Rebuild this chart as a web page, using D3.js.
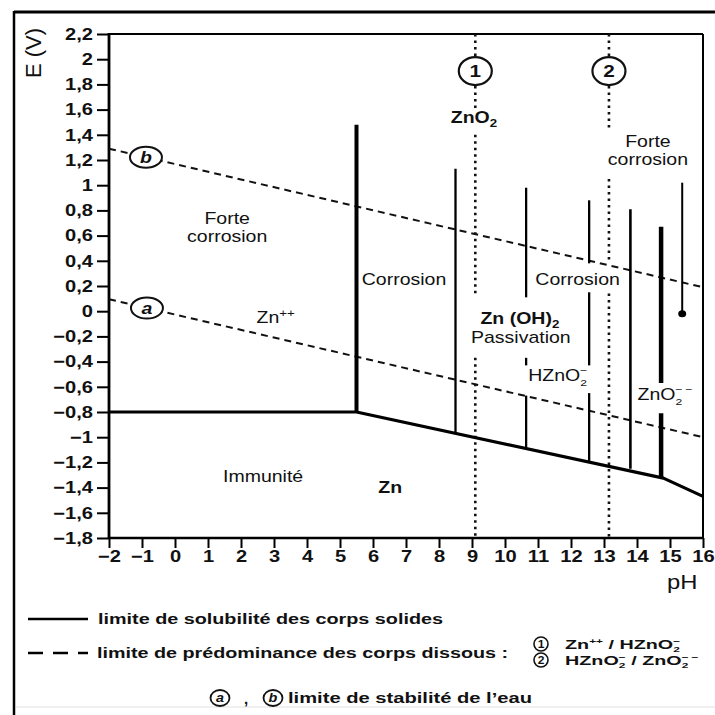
<!DOCTYPE html>
<html><head><meta charset="utf-8">
<script src="https://cdn.jsdelivr.net/npm/d3@7"></script>
<style>
body{margin:0;background:#fff}
svg{display:block}
text{font-family:"Liberation Sans",Arial,Helvetica,sans-serif;fill:#111}
</style>
</head><body>
<svg id="chart" width="715" height="715"></svg>
<script>
// ---------------- data ----------------
const phTicks = [-2,-1,0,1,2,3,4,5,6,7,8,9,10,11,12,13,14,15,16];
const eTicks = [-1.8,-1.6,-1.4,-1.2,-1,-0.8,-0.6,-0.4,-0.2,0,0.2,0.4,0.6,0.8,1,1.2,1.4,1.6,1.8,2,2.2];

// solubility limit of solids (pH, E)
const solubilityLine = [[-2,-0.8],[5.5,-0.8],[14.8,-1.325],[16,-1.47]];
// water stability limits a and b
const waterLineA = [[-2,0.095],[16,-1.0]];
const waterLineB = [[-2,1.29],[16,0.19]];

// vertical solubility boundaries: pH and E segments [top, bottom]
const boundaryPH = [5.5, 8.5, 10.64, 12.55, 13.8, 14.73, 15.37];
const boundarySegments = [
  [[1.48,-0.8]],
  [[1.13,-0.96]],
  [[0.98,0.11],[-0.37,-0.43],[-0.67,-1.08]],
  [[0.88,0.38],[0.15,-0.43],[-0.65,-1.2]],
  [[0.81,-1.25]],
  [[0.67,-0.57],[-0.81,-1.32]],
  [[1.02,-0.02]]
];
const boundaryEndDot = [15.37, -0.02];

// predominance limits of dissolved species (dotted)
const predominancePH = [9.1, 13.15];
const predominanceNames = ["1","2"];
const predominanceSegments = [
  [[2.2,1.61],[1.40,0.11],[-0.37,-1.8]],
  [[2.2,1.45],[1.05,0.38],[0.14,-1.8]]
];
const predominanceMarkE = 1.906;

// water line markers
const waterNames = ["a","b"];
const waterMarkPH = [-0.85, -0.88];

// region labels: text parts, anchor (pH, E baseline)
const regionLabels = [
  {parts:[["Forte","n"]], ph:1.58, e:0.69},
  {parts:[["corrosion","n"]], ph:1.58, e:0.552},
  {parts:[["Zn","n"],["++","sup"]], ph:3.05, e:-0.094},
  {parts:[["Corrosion","n"]], ph:6.94, e:0.208},
  {parts:[["ZnO","n"],["2","sub"]], ph:9.06, e:1.494, bold:true},
  {parts:[["Forte","n"]], ph:14.33, e:1.30},
  {parts:[["corrosion","n"]], ph:14.33, e:1.162},
  {parts:[["Corrosion","n"]], ph:12.2, e:0.208},
  {parts:[["Zn (OH)","n"],["2","sub"]], ph:10.45, e:-0.100, bold:true},
  {parts:[["Passivation","n"]], ph:10.48, e:-0.255},
  {parts:[["HZnO","n"],["2","sub"],["\u2212","supback"]], ph:11.6, e:-0.554},
  {parts:[["ZnO","n"],["2","sub"],["\u2212","supback"],["\u2212","supgap"]], ph:14.85, e:-0.705},
  {parts:[["Immunit\u00e9","n"]], ph:2.67, e:-1.356},
  {parts:[["Zn","n"]], ph:6.52, e:-1.443, bold:true}
];

// legend texts
const legendSolid = "limite de solubilit\u00e9 des corps solides";
const legendDashed = "limite de pr\u00e9dominance des corps dissous :";
const legendPairs = [
  [["Zn","n"],["++","sup"],[" / HZnO","n"],["2","sub"],["\u2212","supback"]],
  [["HZnO","n"],["2","sub"],["\u2212","supback"],[" / ZnO","n"],["2","sub"],["\u2212","supback"],["\u2212","supgap"]]
];
const legendWater = "limite de stabilit\u00e9 de l\u2019eau";
const axisTitleY = "E (V)";
const axisTitleX = "pH";

// ---------------- drawing ----------------
const svg = d3.select("#chart");
const x = d3.scaleLinear().domain([-2,16]).range([109,703]);
const y = d3.scaleLinear().domain([-1.8,2.2]).range([538,34]);
const SX = 1.22;

// outer frame
svg.append("line").attr("x1",14).attr("x2",715).attr("y1",12).attr("y2",12).attr("stroke","#000").attr("stroke-width",3);
svg.append("line").attr("x1",14).attr("x2",14).attr("y1",11).attr("y2",715).attr("stroke","#000").attr("stroke-width",2.5);
svg.append("line").attr("x1",16).attr("x2",715).attr("y1",707).attr("y2",707).attr("stroke","#e2e2e2").attr("stroke-width",1.2);

function fmt(d){ return d===0 ? "0" : String(d).replace(".",",").replace("-","\u2212"); }

// axes
const gy = svg.append("g").attr("transform",`translate(${x(-2)},0)`)
  .call(d3.axisLeft(y).tickValues(eTicks).tickSize(12).tickPadding(4).tickFormat(fmt));
gy.select(".domain").remove();
gy.selectAll(".tick line").attr("stroke","#000").attr("stroke-width",2);
gy.selectAll(".tick text").attr("font-family",null).attr("font-size",16.5).attr("font-weight","bold")
  .attr("x",-16/SX).attr("transform",`scale(${SX},1)`).attr("fill","#111");

const gx = svg.append("g").attr("transform",`translate(0,${y(-1.8)})`)
  .call(d3.axisBottom(x).tickValues(phTicks).tickSize(10).tickPadding(2).tickFormat(fmt));
gx.select(".domain").remove();
gx.selectAll(".tick line").attr("stroke","#000").attr("stroke-width",2);
gx.selectAll(".tick text").attr("font-family",null).attr("font-size",16.5).attr("font-weight","bold")
  .attr("transform",`scale(${SX},1)`).attr("fill","#111");

// plot frame
svg.append("line").attr("x1",x(-2)).attr("x2",x(-2)).attr("y1",y(2.2)-1).attr("y2",y(-1.8)+1).attr("stroke","#000").attr("stroke-width",2.8);
svg.append("line").attr("x1",x(-2)).attr("x2",x(16)).attr("y1",y(-1.8)).attr("y2",y(-1.8)).attr("stroke","#000").attr("stroke-width",2.5);
svg.append("line").attr("x1",x(-2)).attr("x2",x(16)).attr("y1",y(2.2)).attr("y2",y(2.2)).attr("stroke","#000").attr("stroke-width",2);
svg.append("line").attr("x1",x(16)).attr("x2",x(16)).attr("y1",y(2.2)).attr("y2",y(-1.8)).attr("stroke","#000").attr("stroke-width",2);

const line = d3.line().x(d=>x(d[0])).y(d=>y(d[1]));

// water dashed lines
[waterLineA, waterLineB].forEach(l=>{
  svg.append("path").attr("d",line(l)).attr("fill","none").attr("stroke","#111")
    .attr("stroke-width",2).attr("stroke-dasharray","7,5");
});

// dotted predominance lines
predominancePH.forEach((ph,i)=>{
  predominanceSegments[i].forEach(s=>{
    svg.append("line").attr("x1",x(ph)).attr("x2",x(ph)).attr("y1",y(s[0])).attr("y2",y(s[1]))
      .attr("stroke","#111").attr("stroke-width",2.6).attr("stroke-dasharray","2.5,4");
  });
});

// solubility polyline
svg.append("path").attr("d",line(solubilityLine)).attr("fill","none").attr("stroke","#000")
  .attr("stroke-width",3.2).attr("stroke-linejoin","round");

// vertical boundaries
const boundaryWidth = [4,2.3,2.3,2.3,2.6,4.5,2];
boundaryPH.forEach((ph,i)=>{
  boundarySegments[i].forEach(s=>{
    svg.append("line").attr("x1",x(ph)).attr("x2",x(ph)).attr("y1",y(s[0])).attr("y2",y(s[1]))
      .attr("stroke","#000").attr("stroke-width",boundaryWidth[i]);
  });
});
svg.append("ellipse").attr("cx",x(boundaryEndDot[0])).attr("cy",y(boundaryEndDot[1])).attr("rx",4).attr("ry",3.5).attr("fill","#000");

// circle markers on water lines
waterNames.forEach((n,i)=>{
  const L = i===0 ? waterLineA : waterLineB;
  const ph = waterMarkPH[i];
  const e = L[0][1] + (L[1][1]-L[0][1])*(ph-L[0][0])/(L[1][0]-L[0][0]);
  const g = svg.append("g").attr("transform",`translate(${x(ph)},${y(e)})`);
  g.append("ellipse").attr("rx",16).attr("ry",10.5).attr("fill","#fff").attr("stroke","#111").attr("stroke-width",2);
  g.append("text").attr("text-anchor","middle").attr("y",5.5).attr("font-size",16).attr("font-style","italic").attr("font-weight","bold")
    .attr("transform",`scale(${SX},1)`).text(n);
});
predominancePH.forEach((ph,i)=>{
  const g = svg.append("g").attr("transform",`translate(${x(ph)},${y(predominanceMarkE)})`);
  g.append("ellipse").attr("rx",16.5).attr("ry",14).attr("fill","#fff").attr("stroke","#111").attr("stroke-width",2.2);
  g.append("text").attr("text-anchor","middle").attr("y",6).attr("font-size",17).attr("font-weight","bold")
    .attr("transform",`scale(${SX},1)`).text(predominanceNames[i]);
});

// rich text helper
function rich(g, parts, size, subK, supK, smallK){
  subK = subK || 0.3; supK = supK || 0.38; smallK = smallK || 0.68;
  const t = g.append("text").attr("font-size",size);
  let shift = 0;
  parts.forEach(([s,k])=>{
    const small = size*smallK;
    let target = 0;
    if (k==="sub") target = subK*size;
    else if (k==="sup"||k==="supback"||k==="supgap") target = -supK*size;
    const ts = t.append("tspan").text(s).attr("dy", target-shift);
    if (k!=="n") ts.attr("font-size", small);
    if (k==="supback") ts.attr("dx", -0.556*small);
    if (k==="supgap") ts.attr("dx", 0.15*size);
    shift = target;
  });
  return t;
}

regionLabels.forEach(lb=>{
  const g = svg.append("g").attr("transform",`translate(${x(lb.ph)},${y(lb.e)}) scale(${SX},1)`);
  const stacked = lb.parts.some(p=>p[1]==="supback");
  const t = stacked ? rich(g, lb.parts, 16, 0.3, 0.42, 0.62) : rich(g, lb.parts, 16, 0.25, 0.38);
  t.attr("text-anchor","middle");
  if (lb.bold) t.attr("font-weight","bold");
});

// axis titles
svg.append("text").attr("transform",`translate(41,53) rotate(-90)`).attr("text-anchor","middle")
  .attr("font-size",22).text(axisTitleY);
svg.append("g").attr("transform",`translate(667,589) scale(${SX},1)`).append("text")
  .attr("font-size",19.5).text(axisTitleX);

// legend
svg.append("line").attr("x1",28).attr("x2",88).attr("y1",619).attr("y2",619).attr("stroke","#000").attr("stroke-width",2.5);
svg.append("text").attr("x",98).attr("y",624).attr("font-size",14).attr("font-weight","bold")
  .attr("textLength",345).attr("lengthAdjust","spacingAndGlyphs").text(legendSolid);
svg.append("line").attr("x1",28).attr("x2",88).attr("y1",653).attr("y2",653).attr("stroke","#000").attr("stroke-width",2.5)
  .attr("stroke-dasharray","15,10");
svg.append("text").attr("x",97).attr("y",658).attr("font-size",14).attr("font-weight","bold")
  .attr("textLength",411).attr("lengthAdjust","spacingAndGlyphs").text(legendDashed);

legendPairs.forEach((p,i)=>{
  const cy = 644 + i*16;
  svg.append("circle").attr("cx",541).attr("cy",cy).attr("r",7).attr("fill","none").attr("stroke","#111").attr("stroke-width",1.6);
  svg.append("g").attr("transform",`translate(541,${cy+4}) scale(1.15,1)`).append("text").attr("text-anchor","middle")
    .attr("font-size",10.5).attr("font-weight","bold").text(predominanceNames[i]);
  const g = svg.append("g").attr("transform",`translate(565,${cy+5}) scale(1.52,1)`);
  rich(g, p, 13, 0.26, 0.36, 0.6).attr("font-weight","bold");
});

[220,273].forEach((cx,i)=>{
  svg.append("ellipse").attr("cx",cx).attr("cy",698).attr("rx",9.5).attr("ry",8).attr("fill","none").attr("stroke","#111").attr("stroke-width",1.8);
  svg.append("g").attr("transform",`translate(${cx},${702}) scale(1.2,1)`).append("text").attr("text-anchor","middle")
    .attr("font-size",12).attr("font-weight","bold").attr("font-style","italic").text(waterNames[i]);
});
svg.append("text").attr("x",244).attr("y",704).attr("font-size",15).attr("font-weight","bold").text(",");
svg.append("text").attr("x",288).attr("y",703).attr("font-size",14).attr("font-weight","bold")
  .attr("textLength",244).attr("lengthAdjust","spacingAndGlyphs").text(legendWater);
</script>
</body></html>
